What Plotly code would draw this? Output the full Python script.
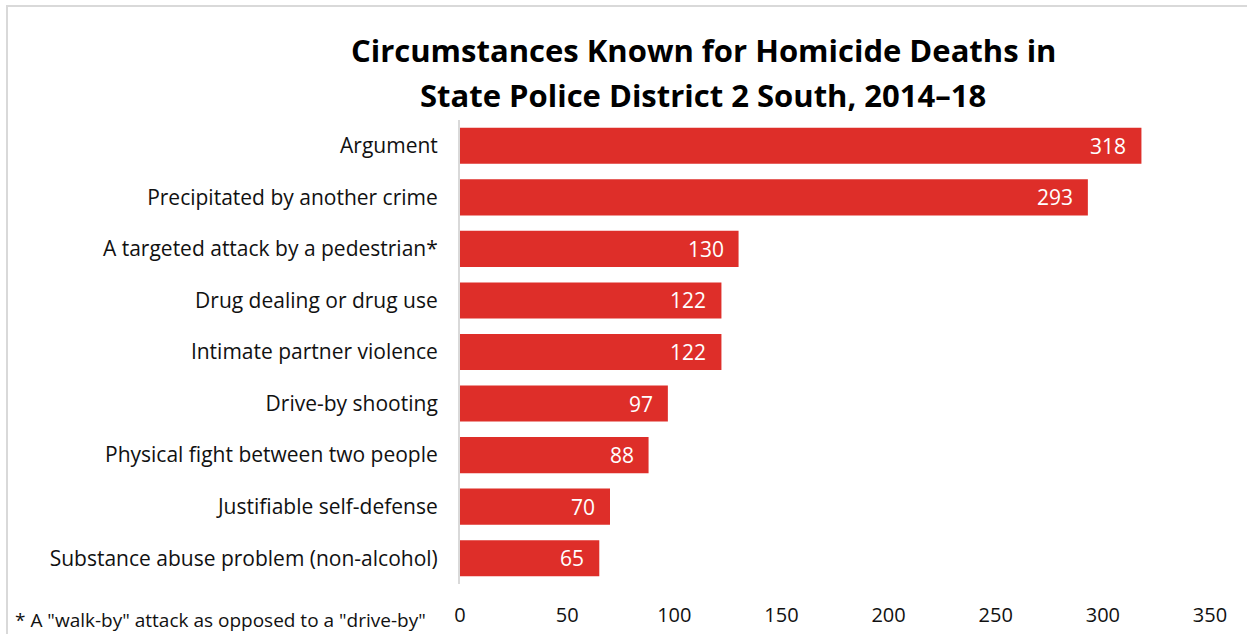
import plotly.graph_objects as go

categories = [
    "Argument",
    "Precipitated by another crime",
    "A targeted attack by a pedestrian*",
    "Drug dealing or drug use",
    "Intimate partner violence",
    "Drive-by shooting",
    "Physical fight between two people",
    "Justifiable self-defense",
    "Substance abuse problem (non-alcohol)",
]
values = [318, 293, 130, 122, 122, 97, 88, 70, 65]
x_ticks = [0, 50, 100, 150, 200, 250, 300, 350]
title_lines = ["Circumstances Known for Homicide Deaths in",
               "State Police District 2 South, 2014–18"]
footnote = '* A "walk-by" attack as opposed to a "drive-by"'

FONT = "Open Sans"
W, H = 1247, 634
L, R, T, B = 460, 37, 120, 50
pw, ph = W - L - R, H - T - B

fig = go.Figure()
fig.add_trace(go.Bar(
    y=categories, x=values, orientation="h",
    marker=dict(color="#DE2E29", line=dict(width=0)),
    width=0.7, hoverinfo="x+y",
))

for c, v in zip(categories, values):
    fig.add_annotation(x=v, y=c, xref="x", yref="y", text=str(v),
                       showarrow=False, xanchor="right", xshift=-13,
                       font=dict(family=FONT, size=21, color="white"))

def px(x):
    return (x - L) / pw

def py(y):
    return (H - B - y) / ph

fig.add_shape(type="rect", xref="paper", yref="paper",
              x0=px(7), x1=px(1260), y0=py(660), y1=py(6),
              line=dict(color="#D9D9D9", width=2), fillcolor="rgba(0,0,0,0)", layer="below")

for line, ypix in zip(title_lines, [50, 95]):
    fig.add_annotation(xref="paper", yref="paper", x=px(703), y=py(ypix),
                       xanchor="center", yanchor="middle", showarrow=False,
                       text=f"<b>{line}</b>",
                       font=dict(family=FONT, size=31, color="black"))

fig.add_annotation(xref="paper", yref="paper", x=px(13), y=py(620),
                   xanchor="left", yanchor="middle", showarrow=False,
                   text=footnote,
                   font=dict(family=FONT, size=19, color="#111"))

fig.update_layout(
    width=W, height=H,
    margin=dict(l=L, r=R, t=T, b=B, pad=0, autoexpand=False),
    paper_bgcolor="white", plot_bgcolor="white",
    showlegend=False,
    xaxis=dict(range=[0, 350], tickvals=x_ticks, showgrid=False, zeroline=False,
               showline=False, ticks="outside", ticklen=13, tickcolor="rgba(0,0,0,0)",
               automargin=False,
               tickfont=dict(family=FONT, size=20, color="#111"), fixedrange=True),
    yaxis=dict(autorange="reversed", showgrid=False, zeroline=False,
               showline=True, linecolor="#D9D9D9", linewidth=2,
               ticks="outside", ticklen=16, tickcolor="rgba(0,0,0,0)",
               automargin=False,
               tickfont=dict(family=FONT, size=21, color="#111"), fixedrange=True),
)

fig.write_html(
    "out.html",
    config={"displayModeBar": False},
    post_script="document.body.style.margin='0';document.documentElement.style.overflow='hidden';",
)
